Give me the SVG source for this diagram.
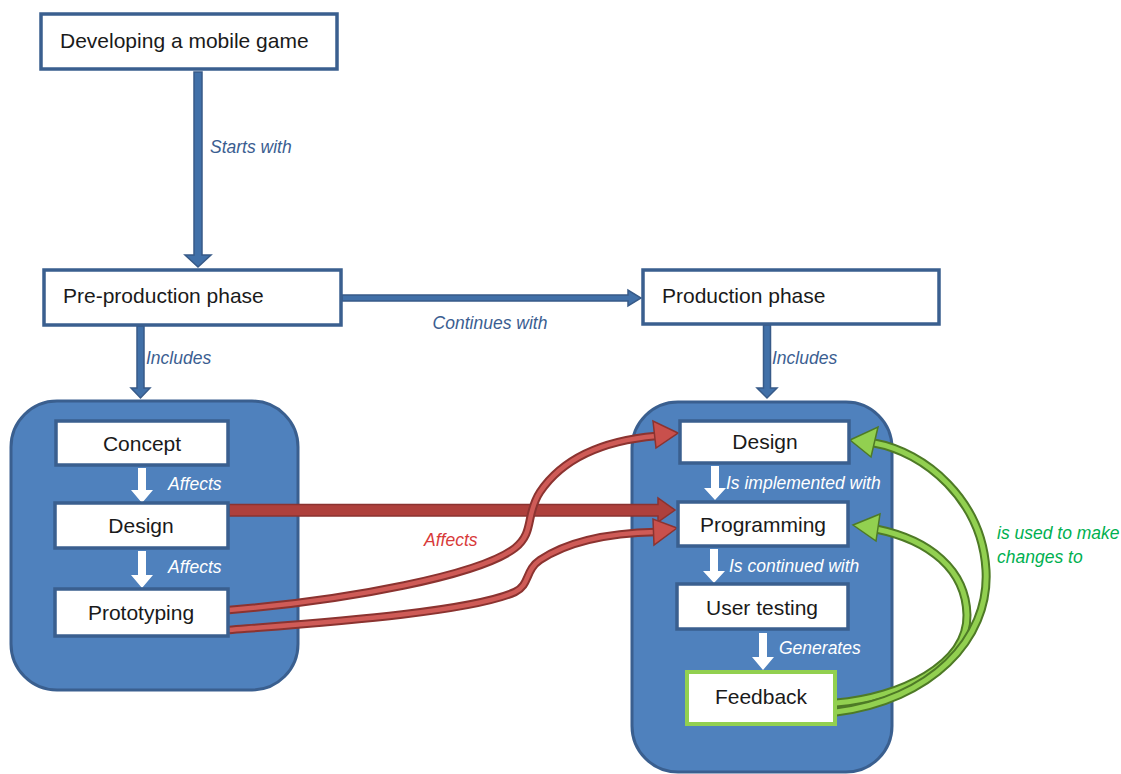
<svg xmlns="http://www.w3.org/2000/svg" width="1121" height="774" viewBox="0 0 1121 774">
<style>
.box{fill:#fff;stroke:#3A5F8F;stroke-width:3.5}
.ibox{fill:#fff;stroke:#3A5F8F;stroke-width:3.5}
.fb{fill:#fff;stroke:#92D050;stroke-width:4}
.cont{fill:#4F81BD;stroke:#3A5F8F;stroke-width:3}
.t{font-family:"Liberation Sans",Arial,sans-serif;font-size:21px;fill:#1a1a1a}
.c{text-anchor:middle}
.lbl{font-family:"Liberation Sans",Arial,sans-serif;font-size:17.5px;font-style:italic}
.blue{fill:#3B5E91}
.white{fill:#fff}
.red{fill:#D83A3A}
.green{fill:#00B050}
.barrow{fill:#4170A8;stroke:#375A88;stroke-width:1.5}
.warrow{fill:#fff}
.rout{fill:none;stroke:#8B3330;stroke-width:8.5}
.rin{fill:none;stroke:#CF5B57;stroke-width:4.5}
.rhead{fill:#C9504C;stroke:#8B3330;stroke-width:1.5}
.gout{fill:none;stroke:#4E7A26;stroke-width:9}
.gin{fill:none;stroke:#92D050;stroke-width:5}
.ghead{fill:#92D050;stroke:#4E7A26;stroke-width:1.5}
</style>

<g id="containers">
<rect id="pre-container" class="cont" x="11" y="401" width="287" height="289" rx="46"/>
<rect id="prod-container" class="cont" x="632" y="402" width="260" height="370" rx="46"/>
</g>

<g id="connectors">
<polygon class="barrow" points="194,72 202,72 202,255 211,255 198,267 185,255 194,255"/>
<polygon class="barrow" points="137,326 144,326 144,388 150,388 140.5,398 131,388 137,388"/>
<polygon class="barrow" points="763.5,325 770.5,325 770.5,388 777,388 767,398 757,388 763.5,388"/>
<polygon class="barrow" points="342,295 628,295 628,290 641,298 628,306 628,301 342,301"/>

<polygon class="warrow" points="138,468 146,468 146,490 153,490 142,503 131,490 138,490"/>
<polygon class="warrow" points="138,551 146,551 146,575 153,575 142,588 131,575 138,575"/>
<polygon class="warrow" points="711,466 719,466 719,488 726,488 715,500 704,488 711,488"/>
<polygon class="warrow" points="710,549 718,549 718,571 725,571 714,583 703,571 710,571"/>
<polygon class="warrow" points="759,633 767,633 767,657 774,657 763,670 752,657 759,657"/>

<polygon class="rhead" points="229,504.5 658,504.5 658,498 675,510 658,522 658,516 229,516" style="fill:#AE403C"/>

<path class="rout" d="M229,630 C330,622 470,612 515,592 C530,585 525,570 540,560 C570,540 610,533 656,532"/>
<path class="rin" d="M229,630 C330,622 470,612 515,592 C530,585 525,570 540,560 C570,540 610,533 656,532"/>
<polygon class="rhead" points="677,528 653,519 654,545"/>

<path class="rout" d="M229,610 C350,600 480,575 515,548 C535,532 525,515 540,492 C565,455 610,440 656,436"/>
<path class="rin" d="M229,610 C350,600 480,575 515,548 C535,532 525,515 540,492 C565,455 610,440 656,436"/>
<polygon class="rhead" points="678,433 653,421 656,448"/>

<path class="gout" d="M836,703 C900,698 968,665 967,615 C966,570 930,540 876,529"/>
<path class="gin" d="M836,703 C900,698 968,665 967,615 C966,570 930,540 876,529"/>
<polygon class="ghead" points="853,525 880,514 876,541"/>

<path class="gout" d="M836,712 C930,700 990,640 986,570 C982,500 925,452 874,443"/>
<path class="gin" d="M836,712 C930,700 990,640 986,570 C982,500 925,452 874,443"/>
<polygon class="ghead" points="850,440 878,427 871,457"/>
</g>

<g id="labels">
<text class="lbl blue" x="210" y="153">Starts with</text>
<text class="lbl blue" x="146" y="364">Includes</text>
<text class="lbl blue" x="772" y="364">Includes</text>
<text class="lbl blue" x="490" y="329" text-anchor="middle">Continues with</text>
<text class="lbl white" x="168" y="490">Affects</text>
<text class="lbl white" x="168" y="573">Affects</text>
<text class="lbl white" x="726" y="489">Is implemented with</text>
<text class="lbl white" x="729" y="572">Is continued with</text>
<text class="lbl white" x="779" y="654">Generates</text>
<text class="lbl red" x="424" y="546">Affects</text>
<text class="lbl green" x="997" y="539">is used to make</text>
<text class="lbl green" x="997" y="563">changes to</text>
</g>

<g id="node-developing"><rect class="box" x="41" y="14" width="296" height="55"/><text class="t" x="60" y="48">Developing a mobile game</text></g>
<g id="node-preproduction"><rect class="box" x="44" y="270" width="297" height="55"/><text class="t" x="63" y="303">Pre-production phase</text></g>
<g id="node-production"><rect class="box" x="643" y="270" width="296" height="54"/><text class="t" x="662" y="303">Production phase</text></g>

<g id="node-concept"><rect class="ibox" x="56" y="421" width="172" height="44"/><text class="t c" x="142" y="451">Concept</text></g>
<g id="node-design-pre"><rect class="ibox" x="55" y="503" width="173" height="45"/><text class="t c" x="141" y="533">Design</text></g>
<g id="node-prototyping"><rect class="ibox" x="55" y="589" width="173" height="47"/><text class="t c" x="141" y="620">Prototyping</text></g>

<g id="node-design-prod"><rect class="ibox" x="680" y="421" width="169" height="42"/><text class="t c" x="765" y="449">Design</text></g>
<g id="node-programming"><rect class="ibox" x="678" y="502" width="170" height="44"/><text class="t c" x="763" y="532">Programming</text></g>
<g id="node-usertesting"><rect class="ibox" x="677" y="584" width="171" height="45"/><text class="t c" x="762" y="615">User testing</text></g>
<g id="node-feedback"><rect class="fb" x="687" y="672" width="148" height="52"/><text class="t c" x="761" y="704">Feedback</text></g>
</svg>
